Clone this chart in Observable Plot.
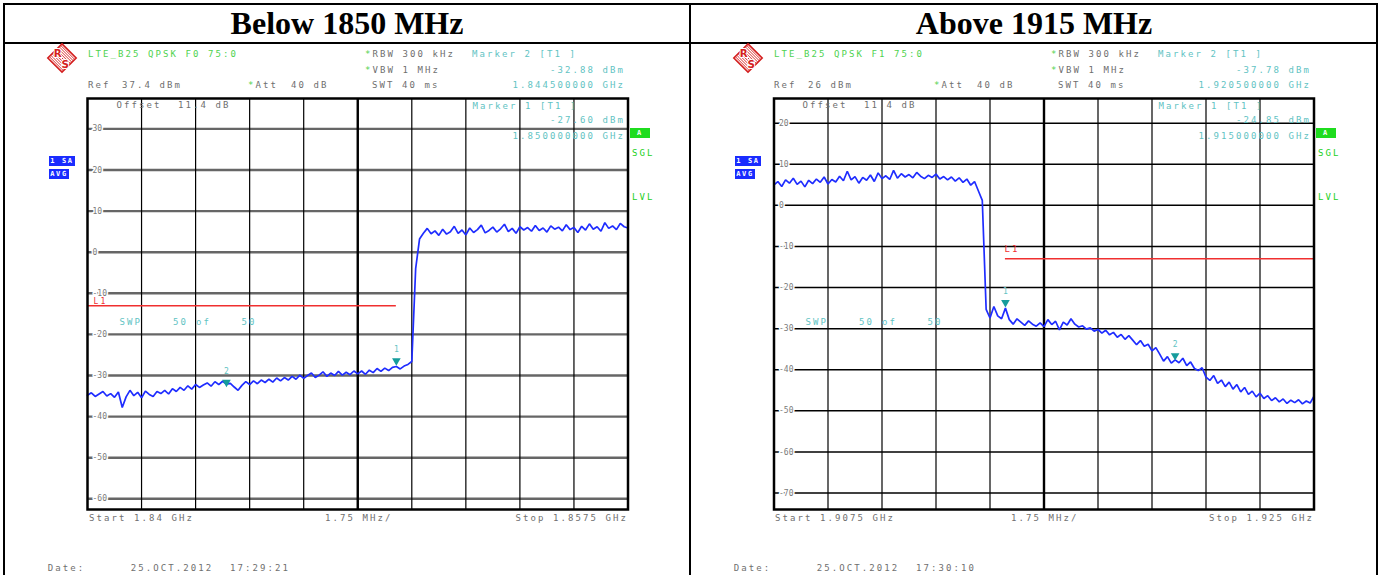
<!DOCTYPE html>
<html><head><meta charset="utf-8">
<script src="https://cdn.jsdelivr.net/npm/d3@7"></script>
<script src="https://cdn.jsdelivr.net/npm/@observablehq/plot@0.6"></script>
<style>
html,body{margin:0;padding:0;background:#fff;}
#root{position:relative;width:1381px;height:575px;overflow:hidden;background:#fff;}
.ln{position:absolute;background:#000;}
.t{position:absolute;font-family:"DejaVu Sans Mono",monospace;font-size:9px;line-height:9px;letter-spacing:2.08px;white-space:pre;}
.title{position:absolute;top:6px;width:686px;font-family:"Liberation Serif","Times New Roman",serif;font-weight:bold;font-size:32px;line-height:34px;text-align:center;color:#000;}
.box{position:absolute;font-family:"DejaVu Sans Mono",monospace;font-weight:bold;font-size:7px;line-height:10px;height:10px;color:#fff;white-space:pre;letter-spacing:1.6px;text-align:center;}
.plotwrap{position:absolute;top:0;width:690px;height:575px;}
</style></head><body><div id="root"></div>
<script>
// ---- data (frequencies in MHz, levels in dBm) ----
const titles = ["Below 1850 MHz", "Above 1915 MHz"];
const sweepStart = [1840, 1907.5];
const sweepStop = [1857.5, 1925];
const sweepStep = 0.125;
const refLevel = [37.4, 26];
const yTicksL = [30, 20, 10, 0, -10, -20, -30, -40, -50, -60];
const yTicksR = [20, 10, 0, -10, -20, -30, -40, -50, -60, -70];
const xGridL = [1841.75, 1843.5, 1845.25, 1847, 1848.75, 1850.5, 1852.25, 1854, 1855.75];
const xGridR = [1909.25, 1911, 1912.75, 1914.5, 1916.25, 1918, 1919.75, 1921.5, 1923.25];
const xCenter = [1848.75, 1916.25];
const limitL = [{f1: 1840, f2: 1850, v: -13}];
const limitR = [{f1: 1915, f2: 1925, v: -13}];
const levelsL = [
 -34.8,-34.2,-35.1,-34.5,-33.9,-35.0,-34.4,-35.3,-34.0,-37.8,
 -35.2,-33.6,-34.9,-34.1,-35.4,-33.8,-34.6,-35.1,-33.9,-34.4,
 -33.6,-34.5,-33.2,-33.9,-32.9,-33.6,-32.5,-33.3,-32.2,-32.9,
 -32.3,-31.8,-32.6,-31.5,-32.2,-31.4,-32.1,-31.9,-32.8,-33.6,
 -32.4,-31.5,-32.2,-31.3,-32.0,-31.1,-31.7,-30.9,-31.6,-30.6,
 -31.3,-30.5,-31.1,-30.2,-30.9,-29.9,-30.7,-30.0,-29.4,-30.5,
 -29.9,-29.1,-30.2,-29.4,-30.0,-29.0,-29.9,-29.2,-29.8,-28.9,
 -29.6,-28.9,-29.7,-28.7,-29.3,-28.3,-29.0,-28.2,-28.8,-28.0,
 -27.8,-28.4,-27.7,-27.3,-26.6,-4.0,3.2,4.6,5.8,4.5,
 5.2,4.1,5.6,4.4,5.0,6.3,4.6,5.4,4.2,5.9,
 4.8,5.5,6.6,4.7,5.3,6.1,4.9,5.7,6.8,5.0,
 5.8,4.6,6.2,5.4,6.0,5.1,6.5,5.3,5.9,4.9,
 6.4,5.6,6.1,5.2,6.7,5.5,6.0,4.8,6.3,5.4,
 6.9,5.6,6.2,5.1,7.2,5.8,6.4,5.5,7.0,6.2,
 5.9];
const levelsR = [
 5.0,5.8,4.6,6.2,5.4,6.6,5.1,5.9,4.5,6.1,
 5.3,6.4,5.6,6.9,5.2,6.3,5.7,7.1,6.0,8.3,
 6.2,7.0,5.4,6.8,6.1,7.4,5.8,7.9,6.5,7.2,
 6.3,8.5,6.6,7.7,6.9,7.5,6.7,8.0,7.1,6.5,
 7.3,6.8,7.6,6.4,7.0,6.2,6.9,5.9,6.7,5.6,
 6.4,4.9,5.8,3.5,1.2,-25.3,-27.4,-24.6,-26.9,-27.6,
 -25.0,-27.8,-28.9,-27.6,-28.4,-29.2,-28.1,-28.9,-29.4,-28.6,
 -29.5,-27.8,-29.0,-28.2,-30.3,-28.4,-29.1,-27.6,-28.9,-29.6,
 -29.3,-30.1,-29.8,-30.6,-30.2,-31.1,-30.4,-31.5,-30.9,-32.1,
 -31.4,-32.6,-31.7,-32.8,-33.9,-32.9,-34.3,-33.8,-35.4,-34.6,
 -36.2,-37.9,-36.8,-38.4,-37.6,-38.3,-37.2,-39.0,-38.1,-39.7,
 -40.2,-39.5,-41.8,-42.6,-41.4,-43.3,-42.5,-44.1,-43.0,-44.7,
 -43.6,-45.4,-44.3,-46.0,-45.2,-46.6,-45.7,-47.0,-46.3,-47.5,
 -46.8,-47.8,-47.1,-48.2,-47.4,-48.0,-47.3,-48.3,-47.6,-48.1,
 -46.4];
const markersL = [{n: "1", f: 1850, v: -27.60}, {n: "2", f: 1844.5, v: -32.88}];
const markersR = [{n: "1", f: 1915, v: -24.85}, {n: "2", f: 1920.5, v: -37.78}];
const headerL = ["LTE_B25 QPSK F0 75:0", "37.4 dBm", "-32.88 dBm", "1.844500000 GHz", "-27.60 dBm", "1.850000000 GHz", "Start 1.84 GHz", "Stop 1.8575 GHz", "17:29:21"];
const headerR = ["LTE_B25 QPSK F1 75:0", "26 dBm", "-37.78 dBm", "1.920500000 GHz", "-24.85 dBm", "1.915000000 GHz", "Start 1.9075 GHz", "Stop 1.925 GHz", "17:30:10"];

// ---- colours ----
const C = {green: "#4fd24f", gray: "#6f6f6f", teal: "#62c3c3", red: "#f03030", bright: "#22d022"};

const root = document.getElementById("root");
function line(x, y, w, h) { const d = document.createElement("div"); d.className = "ln"; Object.assign(d.style, {left: x + "px", top: y + "px", width: w + "px", height: h + "px"}); root.appendChild(d); }
function txt(x, y, s, color, right, size) {
  const d = document.createElement("div"); d.className = "t"; d.textContent = s; d.style.color = color;
  const fs = size || 9;
  if (size) { d.style.fontSize = fs + "px"; d.style.lineHeight = fs + "px"; }
  d.style.top = (y - fs / 2) + "px";
  if (right) d.style.right = (1381 - x - 2.08) + "px"; else d.style.left = x + "px";
  root.appendChild(d);
}
function box(x, y, w, s, bg) { const d = document.createElement("div"); d.className = "box"; d.textContent = s; Object.assign(d.style, {left: x + "px", top: y + "px", width: w + "px", background: bg}); root.appendChild(d); }
function logo(cx, cy) {
  const ns = "http://www.w3.org/2000/svg";
  const s = document.createElementNS(ns, "svg");
  s.setAttribute("width", 34); s.setAttribute("height", 34);
  s.setAttribute("viewBox", "0 0 34 34");
  s.style.position = "absolute"; s.style.left = (cx - 16) + "px"; s.style.top = (cy - 16) + "px";
  s.style.width = "32px"; s.style.height = "32px";
  const id = "clip" + cx;
  let lines = "";
  for (let k = -30; k <= 30; k += 3) lines += `<line x1="${k}" y1="0" x2="${k + 34}" y2="34" stroke="#d42020" stroke-width="1"/>`;
  s.innerHTML = `<defs><clipPath id="${id}"><polygon points="17,3 31,17 17,31 3,17"/></clipPath></defs>
   <g clip-path="url(#${id})">${lines}</g>
   <polygon points="17,2 32,17 17,32 2,17" fill="none" stroke="#d42020" stroke-width="1.8"/>
   <text x="12.5" y="16" font-family="DejaVu Sans" font-weight="bold" font-size="11" fill="#d42020" stroke="#fff" stroke-width="2" paint-order="stroke" text-anchor="middle">R</text>
   <text x="20.5" y="27.5" font-family="DejaVu Sans" font-weight="bold" font-size="11" fill="#d42020" stroke="#fff" stroke-width="2" paint-order="stroke" text-anchor="middle">S</text>`;
  root.appendChild(s);
}

// table borders
line(3, 3, 1375, 2); line(3, 3, 2, 572); line(1376, 3, 2, 572); line(689, 3, 2, 572); line(3, 42, 1375, 2);
titles.forEach((t, k) => { const d = document.createElement("div"); d.className = "title"; d.textContent = t; d.style.left = (4 + k * 687) + "px"; root.appendChild(d); });

function spectrum(k) {
  const levels = k ? levelsR : levelsL;
  const trace = levels.map((v, i) => ({f: sweepStart[k] + i * sweepStep, v}));
  const yTicks = k ? yTicksR : yTicksL;
  const markers = k ? markersR : markersL;
  const limit = k ? limitR : limitL;
  return Plot.plot({
    width: 690, height: 575,
    marginLeft: k ? 87.5 : 87, marginRight: 62.5, marginTop: 98, marginBottom: 66,
    x: {domain: [sweepStart[k], sweepStop[k]], axis: null},
    y: {domain: [refLevel[k] - 100, refLevel[k]], axis: null},
    style: {background: "transparent", overflow: "visible"},
    marks: [
      Plot.ruleY(yTicks, {stroke: k ? "#000" : "#666", strokeWidth: k ? 1.5 : 2.4}),
      Plot.ruleX(k ? xGridR : xGridL, {stroke: "#000", strokeWidth: 1.2}),
      Plot.ruleX([xCenter[k]], {stroke: "#000", strokeWidth: 2.4}),
      Plot.text(yTicks, {x: () => sweepStart[k], y: d => d, text: d => String(d), dx: 5, textAnchor: "start",
        fill: "#7a7a7a", stroke: "#fff", strokeWidth: 3, fontFamily: "DejaVu Sans Mono", fontSize: 8}),
      Plot.ruleY(limit, {y: "v", x1: "f1", x2: "f2", stroke: C.red, strokeWidth: 1.5}),
      Plot.line(trace, {x: "f", y: "v", stroke: "#1f2dff", strokeWidth: 1.7, strokeLinejoin: "miter"}),
      Plot.dot(markers, {x: "f", y: "v", symbol: "triangle", rotate: 180, r: 3.2, dy: -5, fill: "#169c9c", stroke: "none"}),
      Plot.text(markers, {x: "f", y: "v", text: "n", dy: -16, fill: C.teal, fontFamily: "DejaVu Sans Mono", fontSize: 8}),
      Plot.frame({stroke: "#000", strokeWidth: 2.5})
    ]
  });
}

[0, 1].forEach(k => {
  const w = document.createElement("div"); w.className = "plotwrap"; w.style.left = (k ? 686 : 0) + "px";
  w.appendChild(spectrum(k)); root.appendChild(w);
  const o = k ? 686 : 0; const h = k ? headerR : headerL;
  logo(62 + o, 58);
  txt(88 + o, 54, h[0], C.green);
  txt(365 + o, 54, "*", C.green); txt(372.5 + o, 54, "RBW 300 kHz", C.gray);
  txt(472 + o, 54, "Marker 2 [T1 ]", C.teal);
  txt(365 + o, 70, "*", C.green); txt(372.5 + o, 70, "VBW 1 MHz", C.gray);
  txt(623 + o, 70, h[2], C.teal, true);
  txt(88 + o, 85, "Ref", C.gray); txt(122 + o, 85, h[1], C.gray);
  txt(248 + o, 85, "*", C.green); txt(255.5 + o, 85, "Att", C.gray); txt(291 + o, 85, "40 dB", C.gray);
  txt(372 + o, 85, "SWT 40 ms", C.gray);
  txt(623 + o, 85, h[3], C.teal, true);
  txt(116.5 + o, 105, "Offset", C.gray); txt(178 + o, 105, "11.4 dB", C.gray);
  txt(472.5 + o, 106, "Marker 1 [T1 ]", C.teal);
  txt(623 + o, 120, h[4], C.teal, true);
  txt(623 + o, 136.5, h[5], C.teal, true);
  txt(119.5 + o, 322, "SWP", C.teal); txt(173 + o, 322, "50", C.teal); txt(196 + o, 322, "of", C.teal); txt(241.5 + o, 322, "50", C.teal);
  if (k) txt(1004.5, 249.5, "L1", C.red); else txt(93.5, 301.5, "L1", C.red, false, 8);
  txt(89 + o, 518.5, h[6], C.gray);
  txt(325 + o, 518.5, "1.75 MHz/", C.gray);
  txt(626 + o, 518.5, h[7], C.gray, true);
  txt(47.7 + o, 568.5, "Date:", C.gray); txt(130.7 + o, 568.5, "25.OCT.2012", C.gray); txt(230 + o, 568.5, h[8], C.gray);
  box(49 + o, 156, 26, "1 SA", "#1a2cff"); box(49 + o, 169, 20, "AVG", "#1a2cff");
  box(630 + o, 128, 20, "A", "#1fdc1f");
  txt(632 + o, 153, "SGL", C.bright); txt(632 + o, 197, "LVL", C.bright);
});
</script></body></html>
